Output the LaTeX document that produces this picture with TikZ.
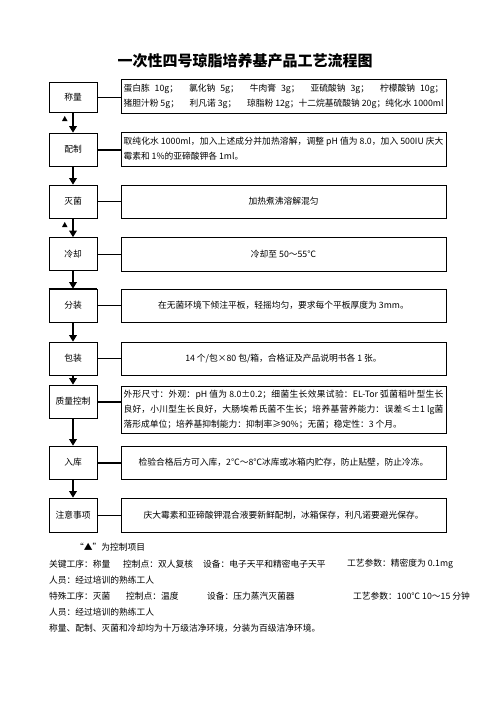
\documentclass[tikz,border=0pt]{standalone}
\usepackage{fontspec}
\setmainfont{Noto Sans CJK SC}
\XeTeXlinebreaklocale "zh"
\XeTeXlinebreakskip = 0pt plus 3pt
\tolerance=10000
\usetikzlibrary{arrows.meta}

\newcommand{\fullline}[1]{{\parfillskip=0pt\noindent#1\par}}

\tikzset{
  stepname/.style={draw, line width=0.8pt, minimum width=57.6pt, minimum height=39.6pt,
    inner sep=1pt, font=\fontsize{10.5pt}{18pt}\selectfont},
  stepinfo/.style={draw, line width=0.8pt, minimum width=390pt, minimum height=40.8pt,
    inner sep=3pt, font=\fontsize{10.5pt}{18pt}\selectfont},
  infopar/.style={stepinfo, text width=384pt, align=justify},
  flowline/.style={line width=1.8pt, -{Triangle}},
  thinlink/.style={line width=0.8pt},
  thicklink/.style={line width=2.4pt},
  note/.style={anchor=west, inner sep=0pt, font=\fontsize{10.5pt}{12pt}\selectfont}
}

\begin{document}
\begin{tikzpicture}[x=1.2pt,y=-1.2pt]
% Parameters
\def\xname{73} \def\xinfo{283.5}
\useasboundingbox (0,0) rectangle (496,702);

% Title
\node[font=\fontsize{18pt}{20pt}\selectfont\bfseries] (title) at (245,61) {一次性四号琼脂培养基产品工艺流程图};

% Steps
\node[stepname, minimum height=36pt] (weigh) at (\xname,97) {称量};
\node[stepname] (mix) at (\xname,149.5) {配制};
\node[stepname] (sterile) at (\xname,201.5) {灭菌};
\node[stepname] (cool) at (\xname,254) {冷却};
\node[stepname] (pour) at (\xname,305.5) {分装};
\node[stepname] (pack) at (\xname,358.5) {包装};
\node[stepname] (qc) at (\xname,401.5) {质量控制};
\node[stepname] (store) at (\xname,462.5) {入库};
\node[stepname, minimum height=40.8pt] (notice) at (\xname,515) {注意事项};

% Details
\node[infopar] (weighinfo) at (\xinfo,96) {\fullline{蛋白胨\hspace{6pt}10g；\hfill 氯化钠\hspace{6pt}5g；\hfill 牛肉膏\hspace{6pt}3g；\hfill 亚硫酸钠\hspace{6pt}3g；\hfill 柠檬酸钠\hspace{6pt}10g；}
  \fullline{猪胆汁粉 5g；\hfill 利凡诺 3g；\hfill 琼脂粉 12g；十二烷基硫酸钠 20g；纯化水 1000ml}};
\node[infopar] (mixinfo) at (\xinfo,149) {\fullline{取纯化水 1000ml，加入上述成分并加热溶解，调整 pH 值为 8.0，加入 500IU 庆大}
  \noindent 霉素和 1\%的亚碲酸钾各 1ml。};
\node[stepinfo, minimum height=39.6pt] (sterileinfo) at (\xinfo,201.5) {加热煮沸溶解混匀};
\node[stepinfo] (coolinfo) at (\xinfo,254) {冷却至 50～55℃};
\node[stepinfo, minimum height=39.6pt] (pourinfo) at (\xinfo,305.5) {在无菌环境下倾注平板，轻摇均匀，要求每个平板厚度为 3mm。};
\node[stepinfo, minimum height=39.6pt] (packinfo) at (\xinfo,358.5) {14 个/包×80 包/箱，合格证及产品说明书各 1 张。};
\node[infopar, minimum height=56.4pt] (qcinfo) at (\xinfo,409.5) {\fullline{外形尺寸：外观：pH 值为 8.0±0.2；细菌生长效果试验：EL-Tor 弧菌稻叶型生长}
  \fullline{良好，小川型生长良好，大肠埃希氏菌不生长；培养基营养能力：误差≤±1 lg菌}
  \noindent 落形成单位；培养基抑制能力：抑制率≥90\%；无菌；稳定性：3 个月。};
\node[stepinfo, minimum height=39.6pt] (storeinfo) at (\xinfo,462.5) {检验合格后方可入库，2℃～8℃冰库或冰箱内贮存，防止贴壁，防止冷冻。};
\node[stepinfo] (noticeinfo) at (\xinfo,515) {庆大霉素和亚碲酸钾混合液要新鲜配制，冰箱保存，利凡诺要避光保存。};

% Heavy edges
\draw[line width=1.6pt] (weighinfo.south west) -- (weighinfo.south east);
\draw[line width=1.6pt] (pour.north west) -- (pour.north east);

% Links
\draw[thinlink] (weigh.east) -- (weigh.east -| weighinfo.west);
\draw[thicklink] (mix.east) -- (mix.east -| mixinfo.west);
\draw[thinlink] (sterile.east) -- (sterile.east -| sterileinfo.west);
\draw[thinlink] (cool.east) -- (cool.east -| coolinfo.west);
\draw[thinlink] (pour.east) -- (pour.east -| pourinfo.west);
\draw[thinlink] (pack.east) -- (pack.east -| packinfo.west);
\draw[thicklink] (qc.east) -- (qc.east -| qcinfo.west);
\draw[thicklink] (store.east) -- (store.east -| storeinfo.west);
\draw[thinlink] (notice.east) -- (notice.east -| noticeinfo.west);

% Flow
\draw[flowline] (weigh.south) -- (mix.north);
\draw[flowline] (mix.south) -- (sterile.north);
\draw[flowline] (sterile.south) -- (cool.north);
\draw[flowline] (cool.south) -- (pour.north);
\draw[flowline] (pour.south) -- (pack.north);
\draw[flowline] (pack.south) -- (qc.north);
\draw[flowline] (qc.south) -- (store.north);
\draw[flowline] (store.south) -- (notice.north);

% Control marks
\fill (62,121) -- (67.5,121) -- (64.75,116) -- cycle;
\fill (62,227) -- (67.5,227) -- (64.75,222) -- cycle;

% Notes
\node[note] (legend) at (75,547) {“▲”为控制项目};
\node[note] (key1) at (49,564) {关键工序：称量};
\node[note] (key2) at (123,564) {控制点：双人复核};
\node[note] (key3) at (203,564) {设备：电子天平和精密电子天平};
\node[note] (key4) at (347,564) {工艺参数：精密度为 0.1mg};
\node[note] (keystaff) at (49,580) {人员：经过培训的熟练工人};
\node[note] (spec1) at (49,596) {特殊工序：灭菌};
\node[note] (spec2) at (126,596) {控制点：温度};
\node[note] (spec3) at (207,596) {设备：压力蒸汽灭菌器};
\node[note] (spec4) at (353,596) {工艺参数：100℃ 10～15 分钟};
\node[note] (specstaff) at (49,612) {人员：经过培训的熟练工人};
\node[note] (env) at (49,628) {称量、配制、灭菌和冷却均为十万级洁净环境，分装为百级洁净环境。};
\end{tikzpicture}
\end{document}
